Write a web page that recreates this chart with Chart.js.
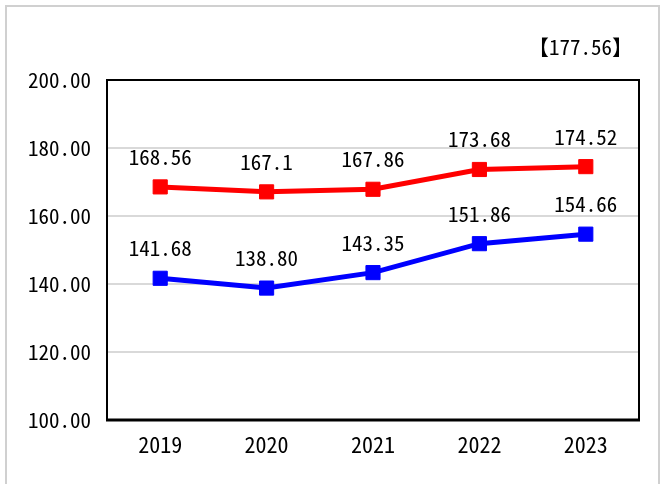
<!DOCTYPE html>
<html>
<head>
<meta charset="utf-8">
<script src="https://cdn.jsdelivr.net/npm/chart.js@4.4.0/dist/chart.umd.min.js"></script>
<style>
  html, body { margin: 0; padding: 0; background: #fff; }
  #wrap { position: relative; width: 664px; height: 484px; overflow: hidden; }
  #frame { position: absolute; left: 5px; top: 5px; width: 655px; height: 500px; border: 2px solid #d0d0d0; box-sizing: border-box; }
  canvas { position: absolute; left: 0; top: 0; }
</style>
</head>
<body>
<div id="wrap">
  <div id="frame"></div>
  <canvas id="chart" width="664" height="484"></canvas>
</div>
<script>
const years = ['2019', '2020', '2021', '2022', '2023'];
const redValues = [168.56, 167.1, 167.86, 173.68, 174.52];
const redLabels = ['168.56', '167.1', '167.86', '173.68', '174.52'];
const blueValues = [141.68, 138.80, 143.35, 151.86, 154.66];
const blueLabels = ['141.68', '138.80', '143.35', '151.86', '154.66'];
const topNote = '【177.56】';

const FONT = '"Noto Sans Mono CJK JP", "Noto Sans CJK JP", sans-serif';

// value labels above each point
const valueLabels = {
  id: 'valueLabels',
  afterDatasetsDraw(chart) {
    const ctx = chart.ctx;
    const all = [redLabels, blueLabels];
    ctx.save();
    ctx.font = '21px ' + FONT;
    ctx.fillStyle = '#000';
    ctx.textAlign = 'center';
    ctx.textBaseline = 'middle';
    chart.data.datasets.forEach((ds, i) => {
      chart.getDatasetMeta(i).data.forEach((pt, j) => {
        ctx.fillText(all[i][j], pt.x, pt.y - 30);
      });
    });
    ctx.restore();
  }
};

// black box round the plot area and the note at the top
const plotBox = {
  id: 'plotBox',
  afterDraw(chart) {
    const { ctx, chartArea: a } = chart;
    ctx.save();
    ctx.strokeStyle = '#000';
    ctx.lineWidth = 2;
    ctx.strokeRect(a.left, a.top, a.right - a.left, a.bottom - a.top);
    ctx.lineWidth = 3;
    ctx.beginPath();
    ctx.moveTo(a.left - 1, a.bottom);
    ctx.lineTo(a.right + 1, a.bottom);
    ctx.stroke();
    ctx.font = '21px ' + FONT;
    ctx.fillStyle = '#000';
    ctx.textAlign = 'right';
    ctx.textBaseline = 'middle';
    ctx.fillText(topNote, a.right - 6, 47);
    ctx.restore();
  }
};

new Chart(document.getElementById('chart'), {
  type: 'line',
  data: {
    labels: years,
    datasets: [
      {
        data: redValues,
        borderColor: '#ff0000',
        backgroundColor: '#ff0000',
        borderWidth: 5,
        pointStyle: 'rect',
        pointRadius: 10,
        pointBorderWidth: 1,
        tension: 0
      },
      {
        data: blueValues,
        borderColor: '#0000ff',
        backgroundColor: '#0000ff',
        borderWidth: 5,
        pointStyle: 'rect',
        pointRadius: 10,
        pointBorderWidth: 1,
        tension: 0
      }
    ]
  },
  options: {
    responsive: false,
    animation: false,
    layout: { padding: { left: 0, top: 80, right: 25, bottom: 0 } },
    plugins: {
      legend: { display: false },
      tooltip: { enabled: false }
    },
    scales: {
      x: {
        offset: true,
        grid: { display: false, drawTicks: false },
        border: { display: false },
        ticks: { color: '#000', font: { family: FONT, size: 22 }, padding: 11 },
        afterFit(scale) { scale.height = 64; }
      },
      y: {
        min: 100,
        max: 200,
        ticks: {
          stepSize: 20,
          color: '#000',
          font: { family: FONT, size: 21 },
          padding: 16,
          callback: v => v.toFixed(2)
        },
        grid: { color: '#d9d9d9', lineWidth: 2, drawTicks: false },
        border: { display: false },
        afterFit(scale) { scale.width = 107; }
      }
    }
  },
  plugins: [valueLabels, plotBox]
});
</script>
</body>
</html>
